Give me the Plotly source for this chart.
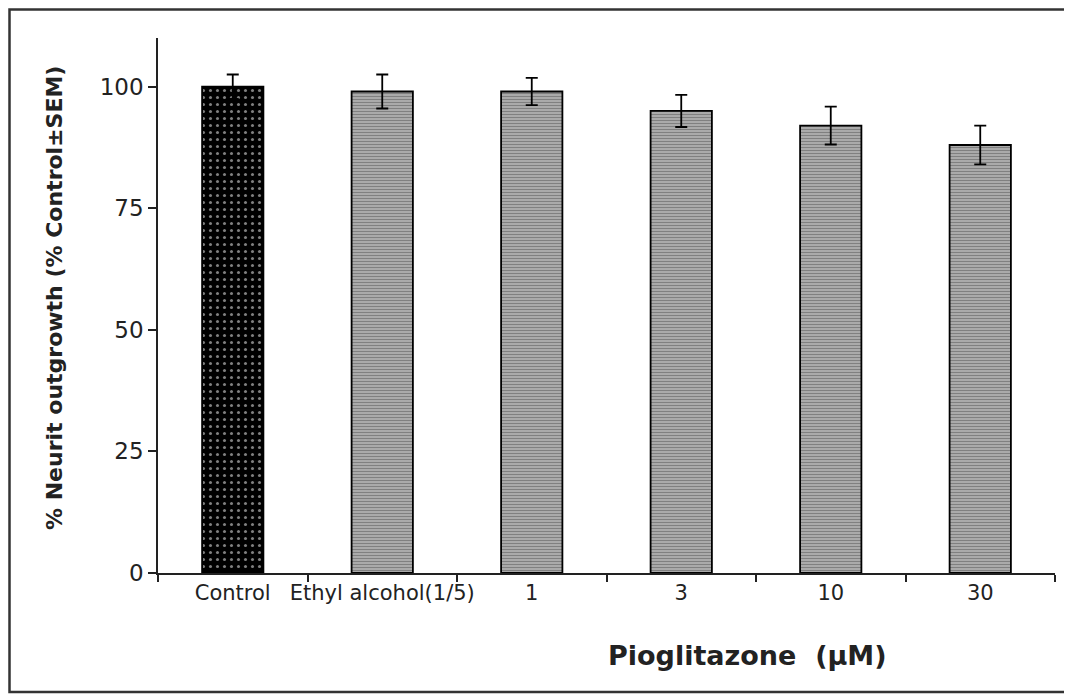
import plotly.graph_objects as go

categories = ["Control", "Ethyl alcohol(1/5)", "1", "3", "10", "30"]
values = [100, 99, 99, 95, 92, 88]
sem = [2.5, 3.5, 2.8, 3.3, 3.9, 4.0]
y_ticks = [0, 25, 50, 75, 100]

shapes_pat = [".", "-", "-", "-", "-", "-"]
bar_colors = ["black", "#bdbdbd", "#bdbdbd", "#bdbdbd", "#bdbdbd", "#bdbdbd"]
fg_colors = ["white", "black", "black", "black", "black", "black"]
pat_sizes = [7, 3, 3, 3, 3, 3]
pat_solid = [0.15, 0.55, 0.55, 0.55, 0.55, 0.55]

fig = go.Figure()
fig.add_trace(go.Bar(
    x=categories, y=values,
    width=0.41,
    marker=dict(
        color=bar_colors,
        line=dict(color="black", width=1.8),
        pattern=dict(shape=shapes_pat, fgcolor=fg_colors, size=pat_sizes,
                     solidity=pat_solid, fillmode="overlay"),
    ),
    error_y=dict(type="data", array=sem, visible=True, color="black",
                 thickness=1.8, width=6),
))

OFF = 8  # page body margin
W, H = 1072, 695
# target screen positions of the plot area
SL, SR, ST, SB = 158, 1055, 38, 573
L = SL - OFF
T = ST - OFF
R = W - (SR - OFF)
B = H - (SB - OFF)
pw, ph = SR - SL, SB - ST

def px(x):
    return (x - SL) / pw

def py(y):
    return (SB - y) / ph

fig.update_layout(
    width=W, height=H,
    margin=dict(l=L, r=R, t=T, b=B),
    plot_bgcolor="white", paper_bgcolor="white",
    showlegend=False,
    font=dict(family="DejaVu Sans", color="#222"),
    xaxis=dict(
        type="category", showline=True, linecolor="#222", linewidth=1.5,
        ticks="outside", tickson="boundaries", ticklen=7, tickcolor="#222",
        tickwidth=1.5, tickangle=0, tickfont=dict(size=21, color="#222"),
        showgrid=False, zeroline=False,
    ),
    yaxis=dict(
        range=[0, 110], showline=True, linecolor="#222", linewidth=1.5,
        ticks="outside", ticklen=8, tickcolor="#222", tickwidth=1.5,
        tickvals=y_ticks, tickfont=dict(size=23, color="#222"),
        showgrid=False, zeroline=False,
    ),
    shapes=[dict(type="rect", xref="paper", yref="paper",
                 x0=px(9.5), x1=px(1085), y0=py(692), y1=py(9.5),
                 line=dict(color="#333", width=2.5), fillcolor="rgba(0,0,0,0)")],
    annotations=[
        dict(text="<b>Pioglitazone\u00a0 (μM)</b>", xref="paper", yref="paper",
             x=px(747), y=py(655), xanchor="center", yanchor="middle",
             showarrow=False, font=dict(size=27, color="#222")),
        dict(text="<b>% Neurit outgrowth (% Control±SEM)</b>", xref="paper", yref="paper",
             x=px(54), y=py(298), xanchor="center", yanchor="middle", textangle=-90,
             showarrow=False, font=dict(size=22, color="#222")),
    ],
)

fig.write_html("out.html")
